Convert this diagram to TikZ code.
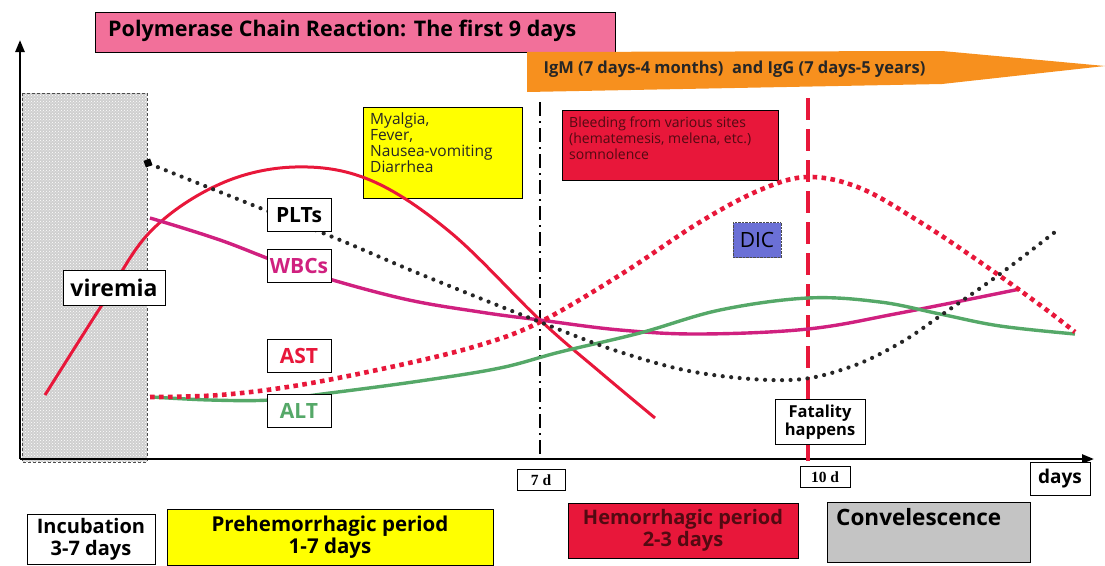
\documentclass[tikz,border=0pt]{standalone}
\usepackage{fontspec}
\setmainfont{Open Sans}
\newfontfamily\daysfont{Liberation Serif}
\usetikzlibrary{patterns,arrows.meta}
\definecolor{titlepink}{HTML}{F2709A}
\definecolor{igorange}{HTML}{F7901E}
\definecolor{bleedred}{HTML}{E8173A}
\definecolor{symyellow}{HTML}{FFFF00}
\definecolor{convgrey}{HTML}{C4C4C4}
\definecolor{dicblue}{HTML}{6B70D6}
\definecolor{wbcmag}{HTML}{D0207F}
\definecolor{altgreen}{HTML}{55A868}
\definecolor{darkred}{HTML}{520A12}
\begin{document}
\begin{tikzpicture}[x=1pt,y=-1pt,
  fs/.style={font=\fontsize{#1}{\dimexpr #1pt*108/100\relax}\selectfont},
  bfs/.style={font=\bfseries\fontsize{#1}{\dimexpr #1pt*108/100\relax}\selectfont},
  panel/.style={draw=black, line width=0.9pt, inner sep=0pt, align=center},
  tagbox/.style={draw=black, line width=0.9pt, fill=white, inner sep=0pt, minimum width=64pt, minimum height=33pt},
  daytag/.style={draw=black, line width=0.8pt, fill=white, inner sep=0pt, minimum height=21pt, font=\daysfont\bfseries\fontsize{15.5}{17}\selectfont},
  axis/.style={line width=2.4pt, -{Triangle[length=12pt,width=9pt]}},
  curve/.style={line width=3.4pt, smooth, tension=0.6},
  pltdots/.style={line width=4.2pt, dash pattern=on 0pt off 8.5pt, line cap=round, smooth, tension=0.6},
  astdots/.style={line width=4.6pt, dash pattern=on 4.6pt off 4.4pt, smooth, tension=0.6},
]
\useasboundingbox (0,0) rectangle (1105,565);

% incubation band
\fill[gray!38] (22,93) rectangle (147,462);
\fill[pattern=crosshatch dots, pattern color=white] (22,93) rectangle (147,462);
\draw[densely dashed, line width=0.6pt, black!70] (22,93) rectangle (147,462);

% title
\node[panel, fill=titlepink, minimum width=520pt, minimum height=40pt] (title) at (355,32) {};
\node[anchor=west, inner sep=0pt, bfs=21.5] (titletext) at (108,31)
  {Polymerase Chain Reaction: The first 9 days};

% antibody arrow
\fill[igorange] (527,52) -- (942,51) -- (1105,66) -- (942,84) -- (527,92) -- cycle;
\node[anchor=west, bfs=16.5, text=black!85] (igs) at (540,69)
  {IgM (7 days-4 months)\ \ and IgG (7 days-5 years)};

% axes
\coordinate (origin) at (20,459);
\coordinate (ytop) at (20,40);
\coordinate (xend) at (1094,459);
\draw[axis] (origin) -- (ytop);
\draw[axis] (origin) -- (xend);

% day markers
\coordinate (d7top) at (540,102);
\coordinate (d7bot) at (540,458);
\draw[line width=2pt, dash pattern=on 14pt off 5pt on 2pt off 5pt] (d7top) -- (d7bot);
\coordinate (d10top) at (808,98);
\coordinate (d10bot) at (808,462);
\draw[line width=3.2pt, bleedred, dash pattern=on 22pt off 9pt] (d10top) -- (d10bot);

% symptom boxes
\node[panel, fill=symyellow, minimum width=159pt, minimum height=91pt] (sym) at (442.5,152.5) {};
\node[anchor=north west, align=left, inner sep=0pt, text=black!85, font=\fontsize{15.5}{16}\selectfont] (symtext) at (370,113)
  {Myalgia,\\Fever,\\Nausea-vomiting\\Diarrhea};
\node[panel, fill=bleedred, minimum width=216pt, minimum height=70pt] (bleed) at (670,145) {};
\node[anchor=north west, align=left, inner sep=0pt, text=darkred, font=\fontsize{14}{16}\selectfont] (bleedtext) at (569,117)
  {Bleeding from various sites\\(hematemesis, melena, etc.)\\somnolence};
\node[draw=black!70, densely dotted, fill=dicblue, minimum width=48pt, minimum height=35pt, inner sep=0pt, fs=21] (dic) at (757,240) {DIC};

% viremia
\draw[curve, bleedred, line width=3pt] plot coordinates {(45,395) (100,308) (150,232) (220,184) (295,167) (370,180) (450,232) (540,320) (600,372) (655,418)};
% WBCs
\draw[curve, wbcmag] plot coordinates {(150,218) (220,240) (300,270) (400,298) (480,312) (540,320) (620,330) (700,334) (808,329) (900,313) (1020,289)};
% ALT
\draw[curve, altgreen] plot coordinates {(152,397) (210,400) (270,400) (330,393) (420,381) (500,368) (560,352) (640,333) (720,310) (808,298) (880,302) (940,314) (1000,326) (1075,334)};
% AST
\draw[astdots, bleedred] plot coordinates {(150,397) (220,395) (300,385) (400,365) (480,345) (540,322) (620,275) (700,222) (760,190) (808,177) (860,188) (920,222) (980,262) (1040,305) (1075,332)};
% PLTs
\draw[pltdots, black!85] plot coordinates {(150,164) (200,184) (265,210) (340,240) (420,274) (540,322) (620,352) (700,373) (790,380) (850,367) (900,343) (940,316) (1000,274) (1055,232)};
\node[fill=black, minimum size=7pt, inner sep=0pt, rotate=20] (pltstart) at (148,163) {};

% curve labels
\node[tagbox, bfs=21] (plts) at (299,215) {PLTs};
\node[tagbox, bfs=21, text=wbcmag] (wbcs) at (299,266) {WBCs};
\node[tagbox, bfs=21, text=bleedred] (ast) at (299,356) {AST};
\node[tagbox, bfs=21, text=altgreen] (alt) at (299,411) {ALT};
\node[tagbox, minimum width=102pt, minimum height=35pt, bfs=23] (viremia) at (114,288) {viremia};
\node[tagbox, minimum width=90pt, minimum height=45pt, align=center, bfs=16.5] (fatal) at (820,422) {Fatality\\happens};

% day tags
\node[daytag, minimum width=48pt] (d7) at (541,480) {7 d};
\node[daytag, minimum width=50pt] (d10) at (825,477) {10 d};

% periods
\node[panel, fill=convgrey, minimum width=203pt, minimum height=60pt] (conv) at (928.5,532) {};
\node[bfs=22.5, anchor=west, inner sep=0pt] (convtext) at (836,517) {Convelescence};
\node[draw=black, line width=0.9pt, fill=white, minimum width=60pt, minimum height=33pt, inner sep=0pt, bfs=19] (days) at (1060,479) {days};
\node[panel, fill=white, minimum width=128pt, minimum height=50pt, bfs=20] (incub) at (91,539) {Incubation\\3-7 days};
\node[panel, fill=symyellow, minimum width=326pt, minimum height=56pt, bfs=20.5] (preh) at (330,537) {Prehemorrhagic period\\1-7 days};
\node[panel, fill=bleedred, minimum width=230pt, minimum height=55pt, bfs=20, text=darkred] (hemo) at (683,530.5) {Hemorrhagic period\\2-3 days};
\end{tikzpicture}
\end{document}
